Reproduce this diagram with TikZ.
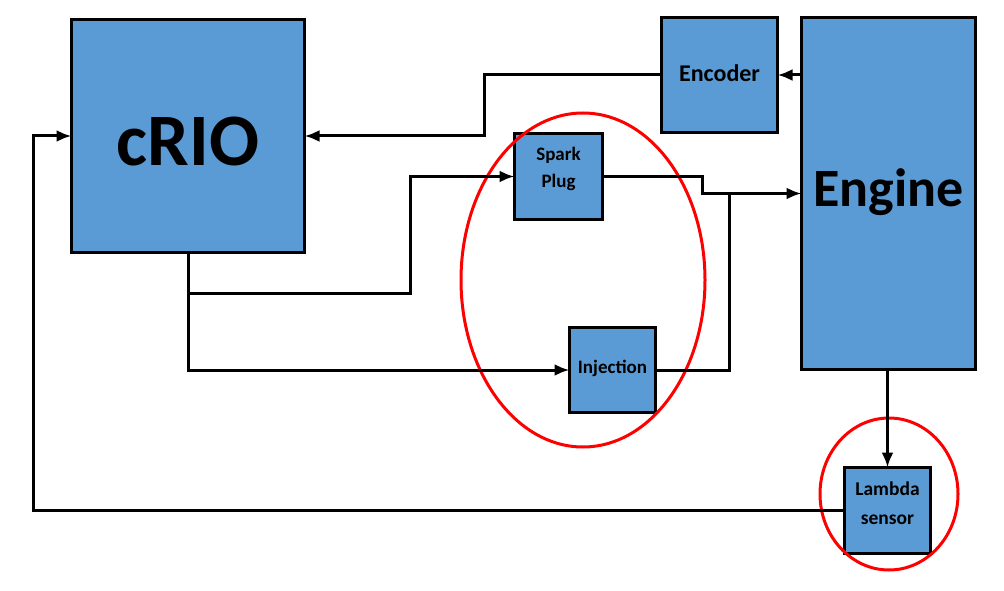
\documentclass[tikz,border=0pt]{standalone}
\usepackage{fontspec}
\setmainfont{Carlito}
\usetikzlibrary{arrows.meta}
\definecolor{boxblue}{HTML}{5B9BD5}
\definecolor{ringred}{HTML}{FF0000}
\tikzset{
  box/.style={draw=black, fill=boxblue, line width=3.2pt, inner sep=0pt, outer sep=0pt},
  lbl/.style={font=\bfseries, text=black, align=center},
  wire/.style={line width=3pt, black},
  conn/.style={wire, -{Latex[length=15pt,width=12pt]}},
  ring/.style={draw=ringred, line width=3pt}
}
\begin{document}
\begin{tikzpicture}[x=1pt,y=-1pt]
\useasboundingbox (0,0) rectangle (1004,591);
% boxes
\node[box, minimum width=233pt, minimum height=233pt,
      label={[lbl, font=\fontsize{74}{80}\selectfont\bfseries, yshift=-6pt]center:cRIO}] (crio) at (188,136) {};
\node[box, minimum width=116pt, minimum height=115pt,
      label={[lbl, font=\fontsize{24}{28}\selectfont\bfseries, yshift=2pt]center:Encoder}] (enc) at (719.5,75) {};
\node[box, minimum width=174pt, minimum height=352pt,
      label={[lbl, font=\fontsize{54}{60}\selectfont\bfseries, yshift=1pt]center:Engine}] (engine) at (888.5,193.5) {};
\node[box, minimum width=88pt, minimum height=86pt,
      label={[lbl, font=\fontsize{19}{27}\selectfont\bfseries, yshift=8pt]center:{Spark\\Plug}}] (spark) at (558.5,176.5) {};
\node[box, minimum width=86pt, minimum height=85pt,
      label={[lbl, font=\fontsize{19}{27}\selectfont\bfseries, yshift=2pt]center:Injection}] (inj) at (612.5,370) {};
\node[box, minimum width=86pt, minimum height=86pt,
      label={[lbl, font=\fontsize{19.5}{29}\selectfont\bfseries, yshift=7pt]center:{Lambda\\sensor}}] (lambda) at (887.5,510.5) {};
% red rings
\draw[ring] (583,280) ellipse [x radius=122, y radius=167];
\draw[ring] (889,494) ellipse [x radius=69, y radius=76];
% connectors
\draw[conn] (enc.west) -| (484,105) |- (crio.east);
\draw[conn] (enc.east -| engine.west) -- (enc.east);
\draw[conn] (crio.south) |- (410,293) |- (spark.west);
\draw[conn] (crio.south) |- (inj.west);
\draw[conn] (spark.east) -| (702,186) |- (engine.west);
\coordinate (join) at (729,193.5);
\draw[wire] (inj.east) -| (join);
\draw[conn] (engine.south -| lambda.north) -- (lambda.north);
\draw[conn] (lambda.west) -| (33,300) |- (crio.west);
\end{tikzpicture}
\end{document}
